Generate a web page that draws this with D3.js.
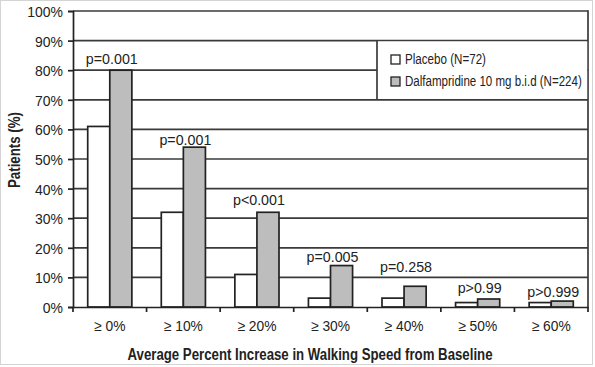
<!DOCTYPE html>
<html><head><meta charset="utf-8">
<script src="https://cdn.jsdelivr.net/npm/d3@7"></script>
<style>
html,body{margin:0;padding:0;background:#fff;}
svg text{font-family:"Liberation Sans",Arial,Helvetica,sans-serif;fill:#222;}
</style></head>
<body>
<svg id="chart" width="595" height="367"></svg>
<script>
const categories = ["≥ 0%", "≥ 10%", "≥ 20%", "≥ 30%", "≥ 40%", "≥ 50%", "≥ 60%"];
const placebo = [61, 32, 11, 3, 3, 1.5, 1.5];
const dalfampridine = [80, 54, 32, 14, 7, 2.7, 2];
const pLabels = ["p=0.001", "p=0.001", "p<0.001", "p=0.005", "p=0.258", "p>0.99", "p>0.999"];
const pLabelLevel = [82, 54.7, 34.5, 15.2, 11.8, 4.7, 3.4];
const yTicks = [0,10,20,30,40,50,60,70,80,90,100];
const seriesNames = ["Placebo (N=72)", "Dalfampridine 10 mg b.i.d (N=224)"];
const seriesFill = ["#ffffff", "#bdbdbd"];

function condense(sel, f){
  sel.each(function(){
    const w = this.getComputedTextLength();
    this.setAttribute("textLength", (w*f).toFixed(2));
    this.setAttribute("lengthAdjust","spacingAndGlyphs");
  });
}
function fitTo(sel, w){
  sel.attr("textLength", w).attr("lengthAdjust","spacingAndGlyphs");
}

const svg = d3.select("#chart");
const L = 73, R = 588, T = 11, B = 307;

svg.append("rect").attr("x",0.5).attr("y",0.5).attr("width",592).attr("height",364)
  .attr("fill","#fff").attr("stroke","#d4d4d4");

const x = d3.scaleBand().domain(categories).range([L, R]);
const y = d3.scaleLinear().domain([0,100]).range([B, T]);
const xs = d3.scaleBand().domain([0,1]).range([0, x.bandwidth()*0.6]);
const off = x.bandwidth()*0.2;

// gridlines
svg.append("g").selectAll("line").data(yTicks.filter(d=>d>0)).join("line")
  .attr("x1",L).attr("x2",R).attr("y1",d=>y(d)).attr("y2",d=>y(d))
  .attr("stroke","#3a3a3a").attr("stroke-width",1.7);

// right border
svg.append("line").attr("x1",R).attr("x2",R).attr("y1",T-0.8).attr("y2",B)
  .attr("stroke","#3a3a3a").attr("stroke-width",1.7);

// bars
const groups = svg.append("g").selectAll("g").data(categories).join("g")
  .attr("transform",d=>`translate(${x(d)+off},0)`);
[placebo, dalfampridine].forEach((arr, s) => {
  groups.append("rect")
    .attr("x", xs(s))
    .attr("y", (d,i)=>y(arr[i]))
    .attr("width", xs.bandwidth())
    .attr("height", (d,i)=>B - y(arr[i]))
    .attr("fill", seriesFill[s]).attr("stroke","#222").attr("stroke-width",1.7);
});

// p labels
const pl = svg.append("g").selectAll("text").data(categories).join("text")
  .attr("x", d=>x(d)+x.bandwidth()/2+2)
  .attr("y", (d,i)=>y(pLabelLevel[i]))
  .attr("text-anchor","middle").attr("font-size",15.5)
  .text((d,i)=>pLabels[i]);
condense(pl, 0.92);

// y axis
const yAxis = svg.append("g").attr("transform",`translate(${L},0)`)
  .call(d3.axisLeft(y).tickValues(yTicks).tickFormat(d=>d+"%").tickSize(5).tickPadding(5));
yAxis.select(".domain").attr("stroke","#222").attr("stroke-width",1.7);
yAxis.selectAll(".tick line").attr("stroke","#222").attr("stroke-width",1.7);
const yt = yAxis.selectAll(".tick text").attr("font-size",15.5).attr("font-family",null).attr("fill","#222").attr("dy","0.36em");
condense(yt, 0.9);

// x axis
const xAxis = svg.append("g").attr("transform",`translate(0,${B})`)
  .call(d3.axisBottom(x).tickSize(0).tickPadding(13));
xAxis.select(".domain").attr("stroke","#222").attr("stroke-width",1.7);
const xt = xAxis.selectAll(".tick text").attr("font-size",15).attr("font-family",null).attr("fill","#222");
condense(xt, 0.92);
svg.append("g").selectAll("line").data(categories.concat([null])).join("line")
  .attr("x1",(d,i)=> i<categories.length ? x(d) : R)
  .attr("x2",(d,i)=> i<categories.length ? x(d) : R)
  .attr("y1",B).attr("y2",B+5).attr("stroke","#222").attr("stroke-width",1.7);

// axis titles
const xTitle = svg.append("text").attr("x",310).attr("y",360).attr("text-anchor","middle")
  .attr("font-size",16).attr("font-weight","bold")
  .text("Average Percent Increase in Walking Speed from Baseline");
fitTo(xTitle, 365);
const yTitle = svg.append("text").attr("transform","translate(20,150) rotate(-90)").attr("text-anchor","middle")
  .attr("font-size",16).attr("font-weight","bold").text("Patients (%)");
fitTo(yTitle, 76);

// legend
const lg = svg.append("g");
lg.append("rect").attr("x",377).attr("y",y(90)+0.85).attr("width",R-377-0.85).attr("height",y(70)-y(90)-1.7)
  .attr("fill","#fff");
lg.append("line").attr("x1",377).attr("x2",377).attr("y1",y(90)).attr("y2",y(70))
  .attr("stroke","#3a3a3a").attr("stroke-width",1.7);
const legendWidths = [81, 177];
seriesNames.forEach((n,i)=>{
  lg.append("rect").attr("x",391).attr("y",55+i*22).attr("width",9).attr("height",9)
    .attr("fill",seriesFill[i]).attr("stroke","#222").attr("stroke-width",1.3);
  const g = lg.append("g");
  const t = g.append("text").attr("x",0).attr("y",0).attr("font-size",15).text(n);
  const nat = t.node().getComputedTextLength();
  g.attr("transform",`translate(405,${64+i*22}) scale(${legendWidths[i]/nat},1)`);
});
</script>
</body></html>
